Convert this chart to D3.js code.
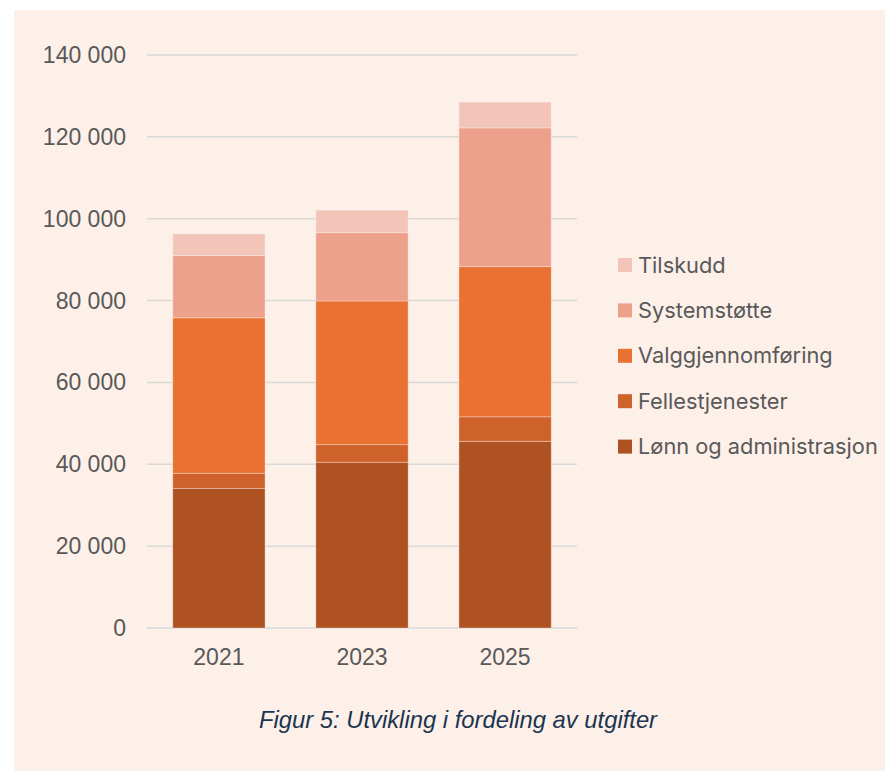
<!DOCTYPE html>
<html>
<head>
<meta charset="utf-8">
<script src="https://cdn.jsdelivr.net/npm/d3@7"></script>
<style>
  body { margin: 0; background: #ffffff; }
  svg { display: block; }
</style>
</head>
<body>
<script>
const width = 885;
const height = 771;

// data
const years = ["2021", "2023", "2025"];
const seriesNames = ["Lønn og administrasjon", "Fellestjenester", "Valggjennomføring", "Systemstøtte", "Tilskudd"];
const lonn = [34100, 40500, 45600];
const felles = [3700, 4300, 6000];
const valg = [38000, 35100, 36700];
const system = [15200, 16700, 33900];
const tilskudd = [5300, 5500, 6300];
const yTicks = [0, 20000, 40000, 60000, 80000, 100000, 120000, 140000];
const colors = ["#AE5221", "#CE622A", "#E97132", "#EEA18A", "#F3C4B8"];

const margin = { left: 147, right: 308, top: 55, bottom: 143 };

let svg = d3.select("body").append("svg")
    .attr("width", width)
    .attr("height", height);

// panel background
svg.append("rect")
    .attr("x", 14)
    .attr("y", 10)
    .attr("width", width - 14)
    .attr("height", height - 10)
    .attr("fill", "#FDF0E9");

let table = years.map((yr, i) => ({
    year: yr,
    "Lønn og administrasjon": lonn[i],
    "Fellestjenester": felles[i],
    "Valggjennomføring": valg[i],
    "Systemstøtte": system[i],
    "Tilskudd": tilskudd[i]
}));

let stacked = d3.stack().keys(seriesNames)(table);

let xScale = d3.scaleBand()
    .domain(years)
    .range([margin.left, width - margin.right])
    .paddingInner(0.355)
    .paddingOuter(0.18);

let yScale = d3.scaleLinear()
    .domain([0, 140000])
    .range([height - margin.bottom, margin.top]);

// gridlines
svg.append("g")
    .selectAll("line")
    .data(yTicks)
    .join("line")
    .attr("x1", margin.left)
    .attr("x2", width - margin.right)
    .attr("y1", d => yScale(d))
    .attr("y2", d => yScale(d))
    .attr("stroke", "#D9D9D9")
    .attr("stroke-width", 1.5);

// y labels
let fmt = d => d3.format(",")(d).replace(/,/g, " ");
svg.append("g")
    .selectAll("text")
    .data(yTicks)
    .join("text")
    .attr("x", 126)
    .attr("y", d => yScale(d))
    .attr("dy", "0.35em")
    .attr("text-anchor", "end")
    .attr("font-family", "'Liberation Sans', Arial, sans-serif")
    .attr("font-size", 23)
    .attr("fill", "#595959")
    .text(fmt);

// x labels
svg.append("g")
    .selectAll("text")
    .data(years)
    .join("text")
    .attr("x", d => xScale(d) + xScale.bandwidth() / 2)
    .attr("y", 665)
    .attr("text-anchor", "middle")
    .attr("font-family", "'Liberation Sans', Arial, sans-serif")
    .attr("font-size", 23)
    .attr("fill", "#595959")
    .text(d => d);

// bars
svg.append("g")
    .selectAll("g")
    .data(stacked)
    .join("g")
    .attr("fill", (d, i) => colors[i])
    .selectAll("rect")
    .data(d => d)
    .join("rect")
    .attr("x", d => xScale(d.data.year))
    .attr("y", d => yScale(d[1]))
    .attr("width", xScale.bandwidth())
    .attr("height", d => yScale(d[0]) - yScale(d[1]))
    .attr("stroke", "#ffffff")
    .attr("stroke-opacity", 0.3)
    .attr("stroke-width", 1);

// legend (reversed order, top = Tilskudd)
let legendItems = seriesNames.map((n, i) => ({ name: n, color: colors[i] })).reverse();
let legend = svg.append("g")
    .selectAll("g")
    .data(legendItems)
    .join("g")
    .attr("transform", (d, i) => `translate(618, ${265 + i * 45.4})`);

legend.append("rect")
    .attr("x", 0)
    .attr("y", -7)
    .attr("width", 14)
    .attr("height", 14)
    .attr("fill", d => d.color);

legend.append("text")
    .attr("x", 20)
    .attr("y", 0)
    .attr("dy", "0.35em")
    .attr("font-family", "Inter, 'Noto Sans', sans-serif")
    .attr("font-size", 21.8)
    .attr("fill", "#595959")
    .text(d => d.name);

// caption
svg.append("text")
    .attr("x", 458)
    .attr("y", 728)
    .attr("text-anchor", "middle")
    .attr("font-family", "'Liberation Sans', Arial, sans-serif")
    .attr("font-style", "italic")
    .attr("font-size", 23.8)
    .attr("fill", "#1B3550")
    .text("Figur 5: Utvikling i fordeling av utgifter");
</script>
</body>
</html>
